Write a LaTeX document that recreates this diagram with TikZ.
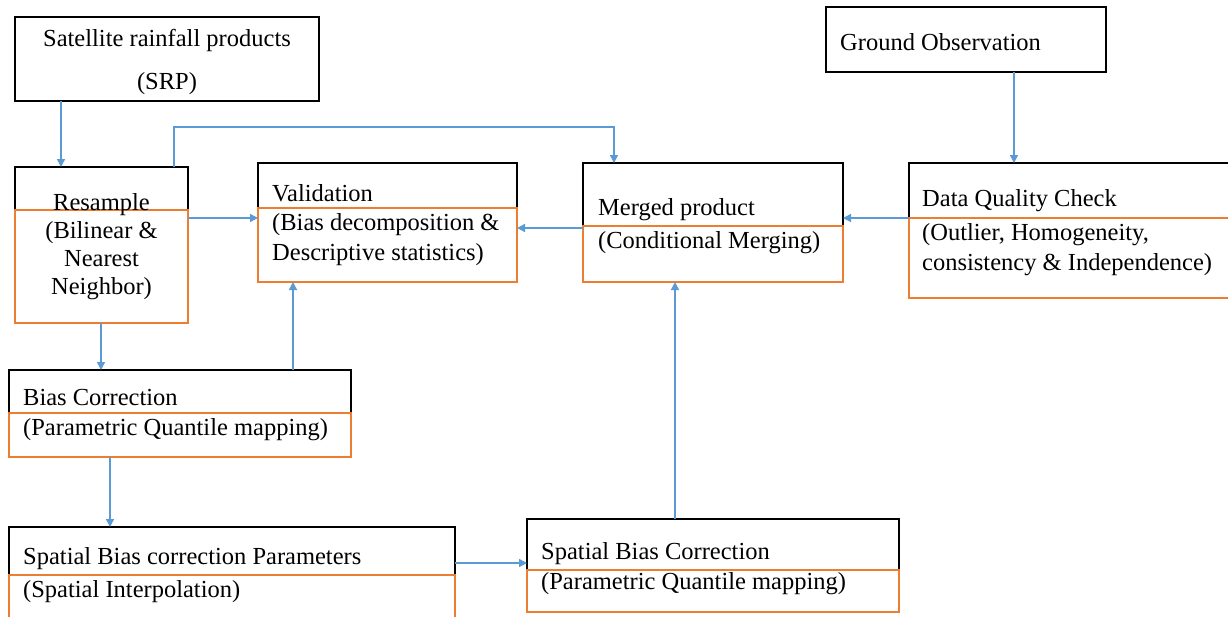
\documentclass[tikz,border=0pt]{standalone}
\usepackage{fontspec}
\setmainfont{Liberation Serif}
\usetikzlibrary{arrows.meta}
\definecolor{flowblue}{HTML}{5B9BD5}
\definecolor{floworange}{HTML}{ED7D31}
\begin{document}
\begin{tikzpicture}[x=1pt,y=-1pt,
  blkbox/.style={draw=black,line width=1.8pt,inner sep=0pt,outer sep=0pt,anchor=north west},
  orgpart/.style={draw=floworange,line width=1.9pt},
  arr/.style={draw=flowblue,line width=1.4pt,-{Triangle[width=8pt,length=8pt]}},
  txt/.style={inner sep=0pt,font=\fontsize{24.5}{30}\selectfont},
  ]
\useasboundingbox[fill=white] (0,0) rectangle (1228,616);
% boxes
\node[blkbox,minimum width=304pt,minimum height=84pt] (srp) at (15,17) {};
\node[blkbox,minimum width=280pt,minimum height=65pt] (gnd) at (826,7) {};
\node[blkbox,minimum width=173pt,minimum height=156pt] (res) at (15,167) {};
\node[blkbox,minimum width=259pt,minimum height=119pt] (val) at (258,163) {};
\node[blkbox,minimum width=260pt,minimum height=119pt] (mrg) at (583,163) {};
\node[blkbox,minimum width=322pt,minimum height=135pt] (dqc) at (909,163) {};
\node[blkbox,minimum width=342pt,minimum height=87pt] (bc) at (9,370) {};
\node[blkbox,minimum width=446pt,minimum height=95pt] (sbp) at (9,527) {};
\node[blkbox,minimum width=372pt,minimum height=93pt] (sbc) at (527,519) {};
% orange lower parts
\draw[orgpart] ([yshift=-43pt]res.north west) rectangle (res.south east);
\draw[orgpart] ([yshift=-45pt]val.north west) rectangle (val.south east);
\draw[orgpart] ([yshift=-63pt]mrg.north west) rectangle (mrg.south east);
\draw[orgpart] ([yshift=-55pt]dqc.north west) rectangle (dqc.south east);
\draw[orgpart] ([yshift=-43pt]bc.north west) rectangle (bc.south east);
\draw[orgpart] ([yshift=-48pt]sbp.north west) rectangle (sbp.south east);
\draw[orgpart] ([yshift=-51pt]sbc.north west) rectangle (sbc.south east);
% texts
\node[txt,anchor=base] (srpA) at (167,46) {Satellite rainfall products};
\node[txt,anchor=base] (srpB) at (167,89) {(SRP)};
\node[txt,anchor=base west] (gndA) at (840,50) {Ground Observation};
\node[txt,anchor=base] (resA) at (101.5,210) {Resample};
\node[txt,anchor=base] (resB) at (101.5,238) {(Bilinear \&};
\node[txt,anchor=base] (resC) at (101.5,266) {Nearest};
\node[txt,anchor=base] (resD) at (101.5,294) {Neighbor)};
\node[txt,anchor=base west] (valA) at (272,201) {Validation};
\node[txt,anchor=base west] (valB) at (272,230) {(Bias decomposition \&};
\node[txt,anchor=base west] (valC) at (272,260) {Descriptive statistics)};
\node[txt,anchor=base west] (mrgA) at (598,215) {Merged product};
\node[txt,anchor=base west] (mrgB) at (598,248) {(Conditional Merging)};
\node[txt,anchor=base west] (dqcA) at (922,206) {Data Quality Check};
\node[txt,anchor=base west] (dqcB) at (922,240) {(Outlier, Homogeneity,};
\node[txt,anchor=base west] (dqcC) at (922,270) {consistency \& Independence)};
\node[txt,anchor=base west] (bcA) at (23,405) {Bias Correction};
\node[txt,anchor=base west] (bcB) at (23,435) {(Parametric Quantile mapping)};
\node[txt,anchor=base west] (sbpA) at (23,564) {Spatial Bias correction Parameters};
\node[txt,anchor=base west] (sbpB) at (23,597) {(Spatial Interpolation)};
\node[txt,anchor=base west] (sbcA) at (541,559) {Spatial Bias Correction};
\node[txt,anchor=base west] (sbcB) at (541,589) {(Parametric Quantile mapping)};
% connectors
\draw[arr] ([xshift=46pt]srp.south west) -- ([xshift=46pt]res.north west);
\draw[arr] ([xshift=159pt]res.north west) |- ([xshift=31pt,yshift=36pt]mrg.north west) -- ([xshift=31pt]mrg.north west);
\draw[arr] ([yshift=-51pt]res.north east) -- ([yshift=-55pt]val.north west);
\draw[arr] ([yshift=-65pt]mrg.north west) -- ([yshift=-65pt]val.north east);
\draw[arr] ([yshift=-55pt]dqc.north west) -- ([yshift=-55pt]mrg.north east);
\draw[arr] ([xshift=188pt]gnd.south west) -- ([xshift=105pt]dqc.north west);
\draw[arr] ([xshift=86pt]res.south west) -- ([xshift=92pt]bc.north west);
\draw[arr] ([xshift=284pt]bc.north west) -- ([xshift=35pt]val.south west);
\draw[arr] ([xshift=101pt]bc.south west) -- ([xshift=101pt]sbp.north west);
\draw[arr] ([yshift=-36pt]sbp.north east) -- ([yshift=-44pt]sbc.north west);
\draw[arr] ([xshift=148pt]sbc.north west) -- ([xshift=92pt]mrg.south west);
\end{tikzpicture}
\end{document}
